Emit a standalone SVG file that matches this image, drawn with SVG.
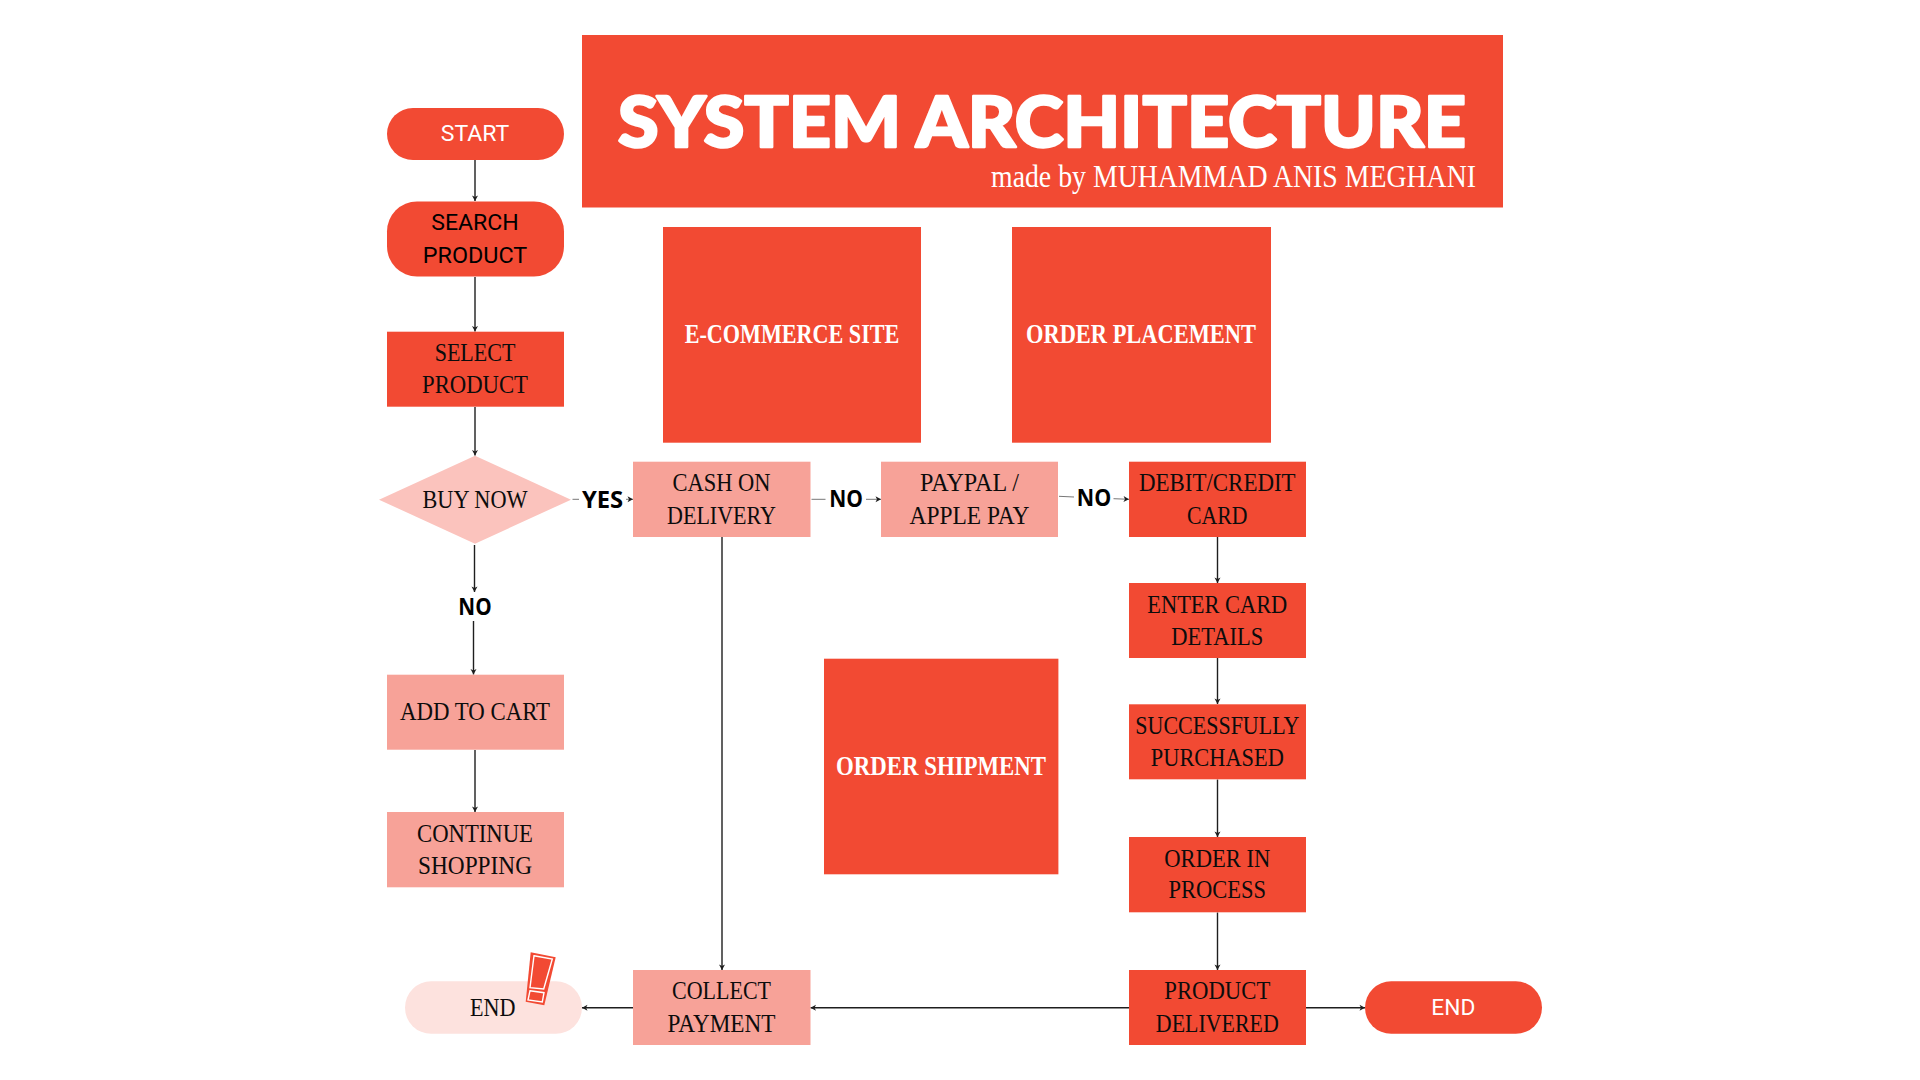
<svg xmlns="http://www.w3.org/2000/svg" width="1920" height="1080" viewBox="0 0 1920 1080">
<style>
text{text-anchor:middle}
.s{font-family:"Liberation Serif",serif;font-size:25.5px;fill:#0c0c0c}
.b{font-family:"Liberation Serif",serif;font-size:26.5px;font-weight:700;fill:#fff}
.r{font-family:Roboto,"Liberation Sans",sans-serif;font-size:22.5px}
.w{fill:#fff}
.k{font-family:"Open Sans","Noto Sans",sans-serif;font-size:23.5px;font-weight:700;fill:#000}
.t{font-family:"Lato","Noto Sans",sans-serif;font-size:71px;font-weight:900;fill:#fff;stroke:#fff;stroke-width:2.5;stroke-linejoin:round}
.m{font-family:"Liberation Serif",serif;font-size:30.5px;fill:#fff;text-anchor:start}
.red{fill:#F24A33}
.pink{fill:#F7A298}
.c line{stroke:#1e1e1e;stroke-width:1.4;fill:none}
.c .a{marker-end:url(#ah)}
.c .g{stroke:#777;stroke-width:1}
.ex{fill:#F24A33;stroke:#fff;stroke-width:1.4}
</style>
<defs>
<marker id="ah" markerUnits="userSpaceOnUse" markerWidth="8" markerHeight="8" refX="6" refY="3.5" orient="auto"><path d="M0.5 0.5L6 3.5L0.5 6.5L2 3.5Z" fill="#1e1e1e"/></marker>
</defs>
<rect width="1920" height="1080" fill="#fff"/>
<g id="connectors" class="c">
<line class="a" x1="475" y1="160" x2="475" y2="201"/>
<line class="a" x1="475" y1="277" x2="475" y2="331.5"/>
<line class="a" x1="475" y1="407" x2="475" y2="455.5"/>
<line class="a" x1="474.5" y1="545" x2="474.5" y2="592"/>
<line class="a" x1="473.5" y1="621" x2="473.5" y2="674.5"/>
<line class="a" x1="475" y1="750" x2="475" y2="812"/>
<line class="g" x1="572.5" y1="499.3" x2="579" y2="499.3"/>
<line class="a g" x1="626" y1="499.3" x2="633" y2="499.3"/>
<line class="g" x1="811.5" y1="499.3" x2="825.5" y2="499.3"/>
<line class="a g" x1="866" y1="499.3" x2="881" y2="499.3"/>
<line class="g" x1="1059" y1="496.3" x2="1074" y2="497"/>
<line class="a g" x1="1113.5" y1="498.7" x2="1129" y2="499.3"/>
<line class="a" x1="722" y1="537" x2="722" y2="970"/>
<line class="a" x1="1217.5" y1="537" x2="1217.5" y2="583"/>
<line class="a" x1="1217.5" y1="658" x2="1217.5" y2="704"/>
<line class="a" x1="1217.5" y1="779.5" x2="1217.5" y2="837"/>
<line class="a" x1="1217.5" y1="912.5" x2="1217.5" y2="970"/>
<line class="a" x1="1129" y1="1007.7" x2="810.5" y2="1007.7"/>
<line class="a" x1="633" y1="1007.7" x2="582" y2="1007.7"/>
<line class="a" x1="1306" y1="1007.7" x2="1365" y2="1007.7"/>
</g>
<g id="title">
<rect class="red" x="582" y="35" width="921" height="172.5"/>
<text class="t" x="1042" y="146.5" textLength="848" lengthAdjust="spacingAndGlyphs">SYSTEM ARCHITECTURE</text>
<text class="m" x="991" y="187" textLength="485" lengthAdjust="spacingAndGlyphs">made by MUHAMMAD ANIS MEGHANI</text>
</g>
<g id="start">
<rect class="red" x="387" y="108" width="177" height="52" rx="26"/>
<text class="r w" x="475" y="140.7" textLength="68.5" lengthAdjust="spacingAndGlyphs">START</text>
</g>
<g id="search-product">
<rect class="red" x="387" y="201.5" width="177" height="75" rx="30"/>
<text class="r" x="475" y="230" textLength="87.6" lengthAdjust="spacingAndGlyphs">SEARCH</text>
<text class="r" x="475" y="263" textLength="104.5" lengthAdjust="spacingAndGlyphs">PRODUCT</text>
</g>
<g id="select-product">
<rect class="red" x="387" y="331.7" width="177" height="75"/>
<text class="s" x="475" y="360.7" textLength="80.7" lengthAdjust="spacingAndGlyphs">SELECT</text>
<text class="s" x="475" y="393" textLength="106" lengthAdjust="spacingAndGlyphs">PRODUCT</text>
</g>
<g id="buy-now">
<polygon points="475,455.7 571,499.7 475,543.7 379,499.7" fill="#FBC3BD"/>
<text class="s" x="475" y="507.7" textLength="105" lengthAdjust="spacingAndGlyphs">BUY NOW</text>
</g>
<g id="label-yes"><text class="k" x="602.6" y="507.7" textLength="41.3" lengthAdjust="spacingAndGlyphs">YES</text></g>
<g id="label-no-1"><text class="k" x="846" y="507.3" textLength="33.7" lengthAdjust="spacingAndGlyphs">NO</text></g>
<g id="label-no-2"><text class="k" x="1094" y="506" textLength="34.4" lengthAdjust="spacingAndGlyphs">NO</text></g>
<g id="label-no-3"><text class="k" x="475" y="614.7" textLength="33.3" lengthAdjust="spacingAndGlyphs">NO</text></g>
<g id="cash-on-delivery">
<rect class="pink" x="633" y="461.7" width="177.5" height="75.3"/>
<text class="s" x="721.5" y="491" textLength="98" lengthAdjust="spacingAndGlyphs">CASH ON</text>
<text class="s" x="721.5" y="524" textLength="109" lengthAdjust="spacingAndGlyphs">DELIVERY</text>
</g>
<g id="paypal">
<rect class="pink" x="881" y="461.7" width="177" height="75.3"/>
<text class="s" x="969.5" y="491" textLength="99" lengthAdjust="spacingAndGlyphs">PAYPAL /</text>
<text class="s" x="969.5" y="524" textLength="120" lengthAdjust="spacingAndGlyphs">APPLE PAY</text>
</g>
<g id="debit-credit">
<rect class="red" x="1129" y="461.7" width="177" height="75.3"/>
<text class="s" x="1217.3" y="491" textLength="156.5" lengthAdjust="spacingAndGlyphs">DEBIT/CREDIT</text>
<text class="s" x="1217.3" y="524" textLength="60.5" lengthAdjust="spacingAndGlyphs">CARD</text>
</g>
<g id="enter-card">
<rect class="red" x="1129" y="583" width="177" height="75"/>
<text class="s" x="1217.3" y="612.7" textLength="140" lengthAdjust="spacingAndGlyphs">ENTER CARD</text>
<text class="s" x="1217.3" y="645" textLength="92" lengthAdjust="spacingAndGlyphs">DETAILS</text>
</g>
<g id="successfully-purchased">
<rect class="red" x="1129" y="704.3" width="177" height="75"/>
<text class="s" x="1217.3" y="733.7" textLength="164" lengthAdjust="spacingAndGlyphs">SUCCESSFULLY</text>
<text class="s" x="1217.3" y="766" textLength="133" lengthAdjust="spacingAndGlyphs">PURCHASED</text>
</g>
<g id="order-in-process">
<rect class="red" x="1129" y="837" width="177" height="75.3"/>
<text class="s" x="1217.3" y="866.7" textLength="106" lengthAdjust="spacingAndGlyphs">ORDER IN</text>
<text class="s" x="1217.3" y="898.3" textLength="97.6" lengthAdjust="spacingAndGlyphs">PROCESS</text>
</g>
<g id="product-delivered">
<rect class="red" x="1129" y="970" width="177" height="75"/>
<text class="s" x="1217.3" y="999.3" textLength="106" lengthAdjust="spacingAndGlyphs">PRODUCT</text>
<text class="s" x="1217.3" y="1031.7" textLength="123" lengthAdjust="spacingAndGlyphs">DELIVERED</text>
</g>
<g id="end-right">
<rect class="red" x="1365" y="981.3" width="177" height="52.5" rx="26.2"/>
<text class="r w" x="1453.3" y="1015" textLength="44" lengthAdjust="spacingAndGlyphs">END</text>
</g>
<g id="collect-payment">
<rect class="pink" x="633" y="970" width="177.5" height="75"/>
<text class="s" x="721.5" y="999.3" textLength="99" lengthAdjust="spacingAndGlyphs">COLLECT</text>
<text class="s" x="721.5" y="1031.7" textLength="108" lengthAdjust="spacingAndGlyphs">PAYMENT</text>
</g>
<g id="end-left">
<rect x="405" y="981.3" width="177" height="52.5" rx="26.2" fill="#FDE2DE"/>
<text class="s" x="492.8" y="1015.7" textLength="45.5" lengthAdjust="spacingAndGlyphs">END</text>
<polygon points="530.7,952.3 555.7,957.3 544.3,1005.3 525.7,1001.7" fill="#F24A33"/>
<polygon class="ex" points="534,955.7 552.3,959 543.7,989 530,987.7"/>
<polygon class="ex" points="530,990.7 544,992.7 542.3,1002 528,1000"/>
</g>
<g id="add-to-cart">
<rect class="pink" x="387" y="674.7" width="177" height="75"/>
<text class="s" x="475" y="720" textLength="150" lengthAdjust="spacingAndGlyphs">ADD TO CART</text>
</g>
<g id="continue-shopping">
<rect class="pink" x="387" y="812" width="177" height="75.3"/>
<text class="s" x="475" y="841.7" textLength="116" lengthAdjust="spacingAndGlyphs">CONTINUE</text>
<text class="s" x="475" y="874" textLength="114" lengthAdjust="spacingAndGlyphs">SHOPPING</text>
</g>
<g id="e-commerce-site">
<rect class="red" x="663" y="227" width="258" height="215.7"/>
<text class="b" x="792" y="342.5" textLength="214.7" lengthAdjust="spacingAndGlyphs">E-COMMERCE SITE</text>
</g>
<g id="order-placement">
<rect class="red" x="1012" y="227" width="259" height="215.7"/>
<text class="b" x="1141" y="342.5" textLength="230" lengthAdjust="spacingAndGlyphs">ORDER PLACEMENT</text>
</g>
<g id="order-shipment">
<rect class="red" x="824" y="658.7" width="234.4" height="215.6"/>
<text class="b" x="941" y="775" textLength="210" lengthAdjust="spacingAndGlyphs">ORDER SHIPMENT</text>
</g>
</svg>
